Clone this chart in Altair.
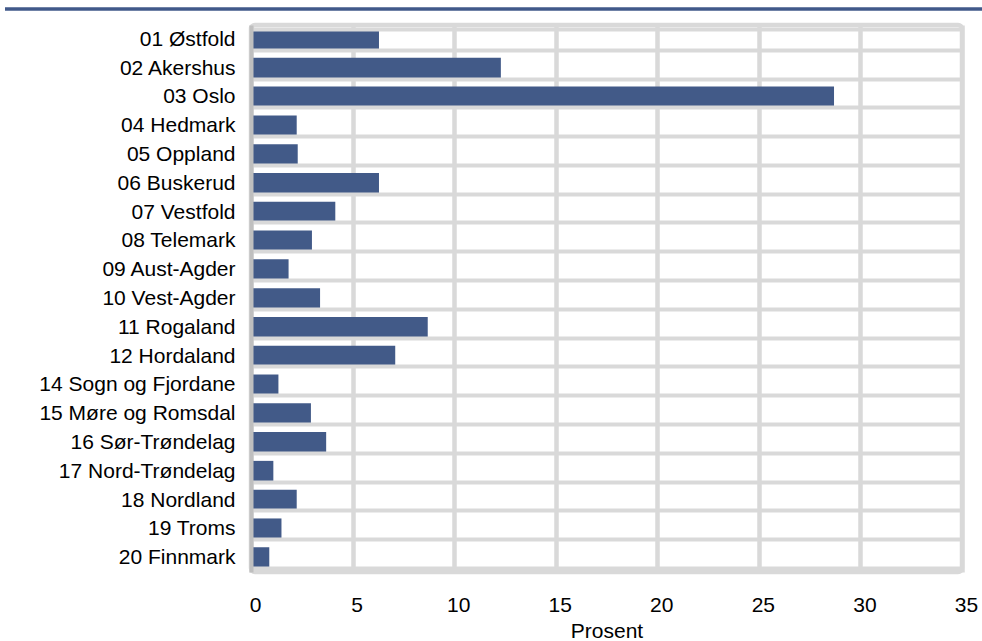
import altair as alt
import pandas as pd

regions = [
    "01 Østfold", "02 Akershus", "03 Oslo", "04 Hedmark", "05 Oppland",
    "06 Buskerud", "07 Vestfold", "08 Telemark", "09 Aust-Agder", "10 Vest-Agder",
    "11 Rogaland", "12 Hordaland", "14 Sogn og Fjordane", "15 Møre og Romsdal",
    "16 Sør-Trøndelag", "17 Nord-Trøndelag", "18 Nordland", "19 Troms", "20 Finnmark",
]
values = [6.3, 12.3, 28.7, 2.25, 2.3, 6.3, 4.15, 3.0, 1.85, 3.4,
          8.7, 7.1, 1.35, 2.95, 3.7, 1.1, 2.25, 1.5, 0.9]
x_ticks = [0, 5, 10, 15, 20, 25, 30, 35]

df = pd.DataFrame({"region": regions, "value": values})

FONT = "Liberation Sans"

bars = alt.Chart(df).mark_bar(color="#425A88").encode(
    x=alt.X(
        "value:Q",
        scale=alt.Scale(domain=[0, 35], nice=False, zero=True),
        axis=alt.Axis(
            values=x_ticks, grid=True, gridColor="#D9D9D9", gridWidth=4.5,
            domain=False, ticks=False, tickSize=0, labelPadding=22,
            labelFontSize=21, labelFont=FONT, labelColor="#000000",
            labelOffset=4, labelFlush=False,
            title="Prosent", titleFontSize=21, titleFont=FONT,
            titleFontWeight="normal", titleColor="#000000", titlePadding=5,
        ),
    ),
    y=alt.Y(
        "region:N", sort=regions,
        scale=alt.Scale(paddingInner=0.28, paddingOuter=0.14),
        axis=alt.Axis(
            title=None, grid=True, tickBand="extent", gridColor="#D9D9D9",
            gridWidth=4, domain=True, domainColor="#BFBFBF", domainWidth=4,
            ticks=False, tickSize=0, labelPadding=16, labelFontSize=21,
            labelFont=FONT, labelColor="#000000", labelLimit=0, zindex=1,
        ),
    ),
)

top_line = alt.Chart(pd.DataFrame({"a": [0]})).mark_rule(
    color="#41598A", strokeWidth=3.5
).encode(x=alt.value(-246), x2=alt.value(731), y=alt.value(-16))

chart = alt.layer(bars, top_line).properties(
    width=711, height=547,
    autosize=alt.AutoSizeParams(type="none"),
    padding={"left": 251, "top": 25, "right": 20, "bottom": 69},
    background="#FFFFFF",
).configure_view(
    stroke="#D9D9D9", strokeWidth=4.5, cornerRadius=4,
)

chart.save("out.html", embed_options={"renderer": "svg", "actions": False})
